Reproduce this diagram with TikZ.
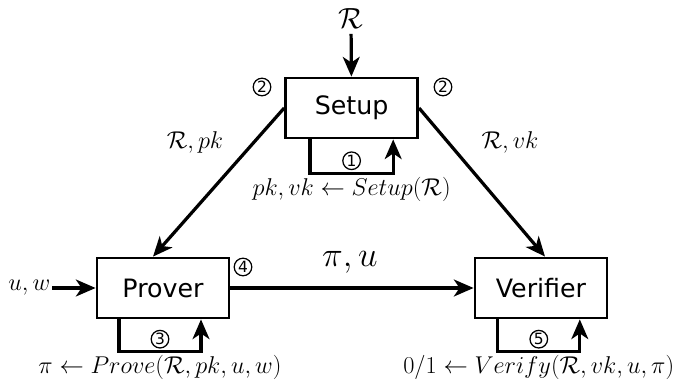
\documentclass[tikz,border=0pt]{standalone}
\usepackage{amsmath,amssymb}
\usepackage{fontspec}
\usepackage{tikz}
\usetikzlibrary{arrows.meta,positioning,calc}
\newfontfamily\boxfont{DejaVu Sans}

\begin{document}
\begin{tikzpicture}[
    party/.style={draw,line width=2pt,minimum width=3.3cm,minimum height=1.5cm,
      font=\boxfont\fontsize{18}{21}\selectfont},
    arr/.style={line width=2.3pt,-{Stealth[length=14pt,width=12pt,inset=4pt]}},
    lbl/.style={font=\fontsize{18.5}{21}\selectfont},
    stepnum/.style={circle,draw,line width=0.9pt,inner sep=0pt,minimum size=0.44cm,
      font=\boxfont\fontsize{11}{12}\selectfont}
  ]
  \useasboundingbox (0,0) rectangle (17,9.525);
  \node[party] (setup) at (8.79,6.825) {Setup};
  \node[party] (prover) at (4.075,2.325) {Prover};
  \node[party] (verifier) at (13.525,2.325) {Verifier};

  \node[font=\fontsize{20}{22}\selectfont] (rel) at (8.775,9.05) {$\mathcal{R}$};
  \node[lbl,anchor=east,inner sep=1pt] (uw) at (1.3,2.325) {$u,w$};

  \draw[arr] (rel) -- (setup);
  \draw[arr] (uw) -- (prover);
  \draw[arr] (setup.west) -- ([xshift=-0.25cm]prover.north);
  \draw[arr] (setup.east) -- ([xshift=0.1cm]verifier.north);
  \draw[arr] (prover) -- (verifier);

  \node[stepnum] (two-l) at (6.55,7.35) {2};
  \node[stepnum] (two-r) at (11.075,7.35) {2};
  \node[lbl] (rpk) at (4.875,5.975) {$\mathcal{R},pk$};
  \node[lbl] (rvk) at (12.75,5.975) {$\mathcal{R},vk$};
  \node[stepnum] (four) at (6.075,2.85) {4};
  \node[font=\fontsize{25}{28}\selectfont] (piu) at (8.75,2.975) {$\pi,u$};

  % local computations
  \draw[arr] ([xshift=-1.04cm]setup.south) -- ++(0,-0.85)
    -| node[pos=0.25,stepnum,above=0.08cm] (one) {1}
       node[pos=0.25,lbl,below=-2pt] (setup-op) {$pk,vk\leftarrow Setup(\mathcal{R})$}
    ([xshift=1.04cm]setup.south);
  \draw[arr] ([xshift=-1.1cm]prover.south) -- ++(0,-0.8)
    -| node[pos=0.25,stepnum,above=0.07cm] (three) {3}
       node[pos=0.25,lbl,below=-2pt] (prove-op) {$\pi\leftarrow Prove(\mathcal{R},pk,u,w)$}
    ([xshift=0.95cm]prover.south);
  \draw[arr] ([xshift=-1.08cm]verifier.south) -- ++(0,-0.8)
    -| node[pos=0.25,stepnum,above=0.07cm] (five) {5}
       node[pos=0.25,lbl,below=-2pt] (verify-op) {$0/1\leftarrow Verify(\mathcal{R},vk,u,\pi)$}
    ([xshift=0.97cm]verifier.south);
\end{tikzpicture}
\end{document}
